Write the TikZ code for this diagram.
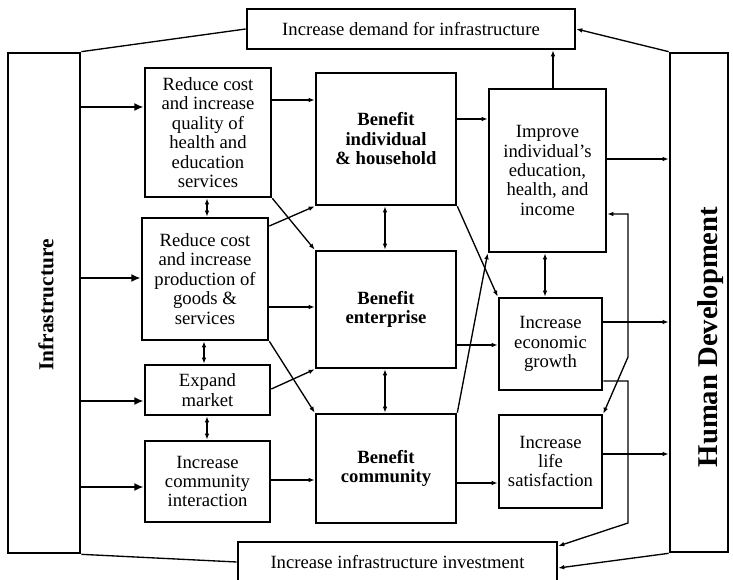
\documentclass[tikz,border=0pt]{standalone}
\usepackage{fontspec}
\setmainfont{Liberation Serif}
\usetikzlibrary{arrows.meta}
\begin{document}
\begin{tikzpicture}[x=0.75pt,y=-0.75pt,
  box/.style={draw, line width=2pt, rectangle, inner sep=0pt, align=center, font=\fontsize{14}{14.6}\selectfont},
  boldbox/.style={box, font=\fontsize{14}{14.6}\selectfont\bfseries},
  sz/.style 2 args={minimum width=#1*0.75pt, minimum height=#2*0.75pt},
  conn/.style={line width=1pt, -{Latex[length=4.5pt,width=3.5pt]}},
  dconn/.style={line width=1pt, {Latex[length=4.5pt,width=3.5pt]}-{Latex[length=4.5pt,width=3.5pt]}},
  plain/.style={line width=1pt},
  bigarrow/.style={line width=2pt, -{Latex[length=7pt,width=6pt]}},
  sidelbl/.style={rotate=90, inner sep=0pt, font=\bfseries}
]
\path[use as bounding box, clip] (0,0) rectangle (733,580);
\fill[white] (0,0) rectangle (733,580);

% side columns
\node[box, sz={72}{500}] (infra) at (44,303) {};
\node[sidelbl, font=\fontsize{16}{18}\selectfont\bfseries] (infralbl) at (46,305) {Infrastructure};
\node[box, sz={58}{499}] (hd) at (699,302.5) {};
\node[sidelbl, font=\fontsize{21.5}{23}\selectfont\bfseries] (hdlbl) at (711,337) {Human Development};

% top and bottom
\node[box, sz={328}{40}] (top) at (411,29) {Increase demand for infrastructure};
\node[box, sz={319}{40}] (bot) at (397.5,562) {Increase infrastructure investment};

% left column
\node[box, sz={126}{129}] (b1) at (208,132.5) {Reduce cost\\and increase\\quality of\\health and\\education\\services};
\node[box, sz={126}{122}] (b2) at (205,279) {Reduce cost\\and increase\\production of\\goods \&\\services};
\node[box, sz={125}{50}] (b3) at (207.5,390) {Expand\\market};
\node[box, sz={125}{81}] (b4) at (207.5,481.5) {Increase\\community\\interaction};

% middle column
\node[boldbox, sz={140}{132}] (ind) at (386,139) {Benefit\\individual\\\& household};
\node[boldbox, sz={140}{117}] (ent) at (386,309.5) {Benefit\\enterprise};
\node[boldbox, sz={140}{109}] (com) at (386,468.5) {Benefit\\community};

% right column
\node[box, sz={117}{163}] (imp) at (547.5,170.5) {Improve\\individual's\\education,\\health, and\\income};
\node[box, sz={103}{92}] (eco) at (550.5,344) {Increase\\economic\\growth};
\node[box, sz={103}{93}] (life) at (550.5,461.5) {Increase\\life\\satisfaction};

% infrastructure arrows
\draw[bigarrow] (infra.east |- 0,107) -- (b1.west |- 0,107);
\draw[bigarrow] (infra.east |- 0,278) -- (b2.west |- 0,278);
\draw[bigarrow] (infra.east |- 0,401) -- (b3.west |- 0,401);
\draw[bigarrow] (infra.east |- 0,487) -- (b4.west |- 0,487);

% outer loop
\draw[plain] (infra.north east) -- (top.west);
\draw[conn] (hd.north west) -- (top.east);
\draw[conn] (imp.north -| 553,0) -- (top.south -| 553,0);
\draw[conn] (imp.east |- 0,159) -- (hd.west |- 0,159);
\draw[conn] (eco.east |- 0,322) -- (hd.west |- 0,322);
\draw[conn] (life.east |- 0,454) -- (hd.west |- 0,454);
\draw[conn] (hd.south west) -- (bot.east |- 0,568);
\draw[plain] (infra.south east) -- (bot.west);

% left column links
\draw[conn] (b1.east |- 0,100) -- (ind.west |- 0,100);
\draw[dconn] (b1.south -| 207,0) -- (b2.north -| 207,0);
\draw[dconn] (b2.south -| 204,0) -- (b3.north -| 204,0);
\draw[dconn] (b3.south -| 207,0) -- (b4.north -| 207,0);
\draw[conn] (b2.east |- 0,226) -- (ind.south west);
\draw[conn] (b1.south east) -- (ent.north west);
\draw[conn] (b2.east |- 0,307) -- (ent.west |- 0,307);
\draw[conn] (b2.south east) -- (com.north west);
\draw[conn] (b3.east |- 0,389) -- (ent.south west);
\draw[conn] (b4.east |- 0,480) -- (com.west |- 0,480);

% middle column links
\draw[dconn] (ind.south -| 385,0) -- (ent.north -| 385,0);
\draw[dconn] (ent.south -| 385,0) -- (com.north -| 385,0);
\draw[conn] (ind.east |- 0,119) -- (imp.west |- 0,119);
\draw[conn] (ind.south east) -- (eco.north west);
\draw[conn] (com.north east) -- (imp.south west);
\draw[conn] (ent.east |- 0,345) -- (eco.west |- 0,345);
\draw[conn] (com.east |- 0,483) -- (life.west |- 0,483);

% right column links
\draw[dconn] (imp.south -| 545,0) -- (eco.north -| 545,0);
\coordinate (e1) at (628,381);
\coordinate (e2) at (628,523);
\draw[conn] (eco.east |- e1) -- (e1) -- (e2) -- (bot.east |- 0,546);
\coordinate (l1) at (628,357);
\coordinate (l2) at (628,214);
\draw[dconn] (imp.east |- l2) -- (l2) -- (l1) -- (life.north east);
\end{tikzpicture}
\end{document}
